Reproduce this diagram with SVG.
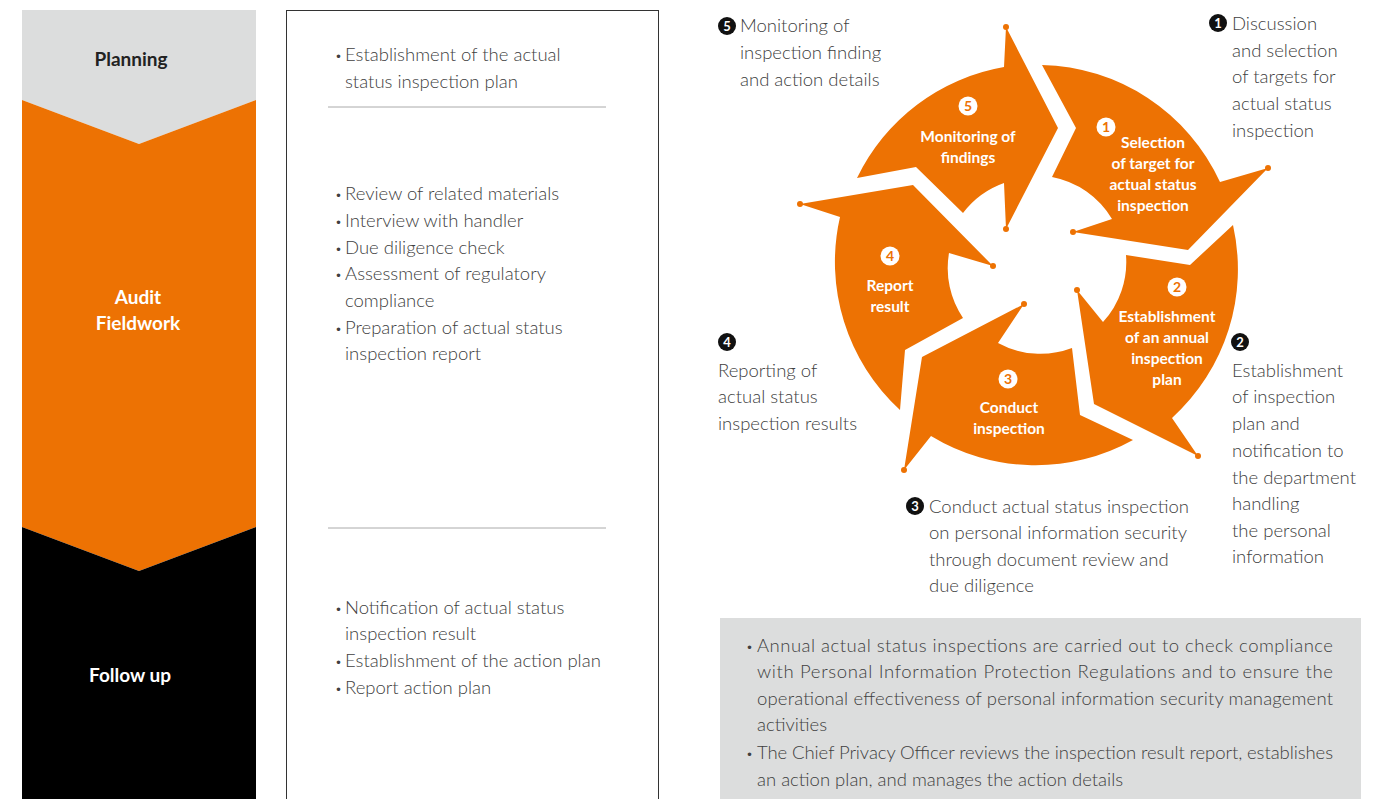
<svg xmlns="http://www.w3.org/2000/svg" width="1399" height="799" viewBox="0 0 1399 799">
<style>
.t{font-family:Lato,"Open Sans","Liberation Sans",sans-serif;font-size:18.5px;font-weight:300;fill:#404040}
.b{font-family:Lato,"Open Sans","Liberation Sans",sans-serif;font-weight:bold}
.seg{fill:#ED7203}
.sl{font-family:Lato,"Open Sans","Liberation Sans",sans-serif;font-weight:bold;font-size:15.5px;fill:#fff;text-anchor:middle}
.sn{font-family:Lato,"Open Sans","Liberation Sans",sans-serif;font-weight:bold;font-size:14px;fill:#ED7203;text-anchor:middle}
.on{font-family:Lato,"Open Sans","Liberation Sans",sans-serif;font-weight:bold;font-size:13px;fill:#fff;text-anchor:middle}
.bl{font-size:12px}
</style>
<rect width="1399" height="799" fill="#fff"/>

<g id="stage-planning">
<polygon points="22,10 256,10 256,100 139,144 22,100" fill="#DCDDDD"/>
<text class="b" x="131" y="66" font-size="19" fill="#222" text-anchor="middle">Planning</text>
</g>
<g id="stage-fieldwork">
<polygon points="22,100 139,144 256,100 256,527 139,571 22,527" fill="#ED7203"/>
<text class="b" x="138" y="304" font-size="19" fill="#fff" text-anchor="middle">Audit</text>
<text class="b" x="138" y="330" font-size="19" fill="#fff" text-anchor="middle">Fieldwork</text>
</g>
<g id="stage-followup">
<polygon points="22,527 139,571 256,527 256,799 22,799" fill="#000"/>
<text class="b" x="130" y="682" font-size="19" fill="#fff" text-anchor="middle">Follow up</text>
</g>

<g id="task-box">
<rect x="286.5" y="10.5" width="372" height="800" fill="none" stroke="#333" stroke-width="1"/>
<line x1="328" y1="107" x2="606" y2="107" stroke="#aaa" stroke-width="1"/>
<line x1="328" y1="528" x2="606" y2="528" stroke="#aaa" stroke-width="1"/>
<text class="t"><tspan x="335" y="60" class="bl">•</tspan><tspan x="345" y="61">Establishment of the actual</tspan><tspan x="345" y="88">status inspection plan</tspan></text>
<text class="t"><tspan x="335" y="199" class="bl">•</tspan><tspan x="345" y="200">Review of related materials</tspan>
<tspan x="335" y="226" class="bl">•</tspan><tspan x="345" y="227">Interview with handler</tspan>
<tspan x="335" y="253" class="bl">•</tspan><tspan x="345" y="254">Due diligence check</tspan>
<tspan x="335" y="279" class="bl">•</tspan><tspan x="345" y="280">Assessment of regulatory</tspan>
<tspan x="345" y="307">compliance</tspan>
<tspan x="335" y="333" class="bl">•</tspan><tspan x="345" y="334">Preparation of actual status</tspan>
<tspan x="345" y="360">inspection report</tspan></text>
<text class="t"><tspan x="335" y="613" class="bl">•</tspan><tspan x="345" y="614">Notification of actual status</tspan>
<tspan x="345" y="640">inspection result</tspan>
<tspan x="335" y="666" class="bl">•</tspan><tspan x="345" y="667">Establishment of the action plan</tspan>
<tspan x="335" y="693" class="bl">•</tspan><tspan x="345" y="694">Report action plan</tspan></text>
</g>

<g id="connectors"></g>

<g id="step1">
<path class="seg" d="M1042,65 A201,201 0 0 1 1220,182 L1268,168 L1188,250 L1073,232 L1112,219 A89,89 0 0 0 1052,177 L1076,128 Z"/>
<circle class="seg" cx="1268" cy="168" r="3"/><circle class="seg" cx="1073" cy="232" r="3"/>
<circle cx="1106" cy="127" r="9.5" fill="#fff"/><text class="sn" x="1106" y="132">1</text>
<text class="sl" x="1153" y="148">Selection</text>
<text class="sl" x="1153" y="169">of target for</text>
<text class="sl" x="1153" y="190">actual status</text>
<text class="sl" x="1153" y="211">inspection</text>
</g>
<g id="step2">
<path class="seg" d="M1233,225 A201,201 0 0 1 1172,418 L1198,456 L1094,404 L1077,290 L1103,322 A89,89 0 0 0 1126,255 L1190,265 Z"/>
<circle class="seg" cx="1198" cy="456" r="3"/><circle class="seg" cx="1077" cy="290" r="3"/>
<circle cx="1177" cy="287" r="9.5" fill="#fff"/><text class="sn" x="1177" y="292">2</text>
<text class="sl" x="1167" y="322">Establishment</text>
<text class="sl" x="1167" y="343">of an annual</text>
<text class="sl" x="1167" y="364">inspection</text>
<text class="sl" x="1167" y="385">plan</text>
</g>
<g id="step3">
<path class="seg" d="M1133,440 A201,201 0 0 1 931,436 L904,470 L922,357 L1024,304 L998,343 A89,89 0 0 0 1072,348 L1080,415 Z"/>
<circle class="seg" cx="904" cy="470" r="3"/><circle class="seg" cx="1024" cy="304" r="3"/>
<circle cx="1008" cy="379" r="9.5" fill="#fff"/><text class="sn" x="1008" y="384">3</text>
<text class="sl" x="1009" y="413">Conduct</text>
<text class="sl" x="1009" y="434">inspection</text>
</g>
<g id="step4">
<path class="seg" d="M900,410 A201,201 0 0 1 840,217 L800,204 L913,185 L993,266 L949,253 A89,89 0 0 0 963,318 L905,350 Z"/>
<circle class="seg" cx="800" cy="204" r="3"/><circle class="seg" cx="993" cy="266" r="3"/>
<circle cx="890" cy="256" r="9.5" fill="#fff"/><text class="sn" x="890" y="261">4</text>
<text class="sl" x="890" y="291">Report</text>
<text class="sl" x="890" y="312">result</text>
</g>
<g id="step5">
<path class="seg" d="M857,178 A201,201 0 0 1 1004,67 L1006,27 L1058,128 L1006,229 L1004,183 A89,89 0 0 0 963,213 L916,167 Z"/>
<circle class="seg" cx="1006" cy="27" r="3"/><circle class="seg" cx="1006" cy="229" r="3"/>
<circle cx="968" cy="106" r="9.5" fill="#fff"/><text class="sn" x="968" y="111">5</text>
<text class="sl" x="968" y="142">Monitoring of</text>
<text class="sl" x="968" y="163">findings</text>
</g>

<g id="note1">
<circle cx="1218" cy="23" r="9" fill="#111"/><text class="on" x="1218" y="28">1</text>
<text class="t"><tspan x="1232" y="30">Discussion</tspan><tspan x="1232" y="57">and selection</tspan><tspan x="1232" y="83">of targets for</tspan><tspan x="1232" y="110">actual status</tspan><tspan x="1232" y="137">inspection</tspan></text>
</g>
<g id="note2">
<circle cx="1240" cy="342" r="9" fill="#111"/><text class="on" x="1240" y="347">2</text>
<text class="t"><tspan x="1232" y="377">Establishment</tspan><tspan x="1232" y="403">of inspection</tspan><tspan x="1232" y="430">plan and</tspan><tspan x="1232" y="457">notification to</tspan><tspan x="1232" y="484">the department</tspan><tspan x="1232" y="510">handling</tspan><tspan x="1232" y="537">the personal</tspan><tspan x="1232" y="563">information</tspan></text>
</g>
<g id="note3">
<circle cx="915" cy="506" r="9" fill="#111"/><text class="on" x="915" y="511">3</text>
<text class="t"><tspan x="929" y="513">Conduct actual status inspection</tspan><tspan x="929" y="539">on personal information security</tspan><tspan x="929" y="566">through document review and</tspan><tspan x="929" y="592">due diligence</tspan></text>
</g>
<g id="note4">
<circle cx="727" cy="342" r="9" fill="#111"/><text class="on" x="727" y="347">4</text>
<text class="t"><tspan x="718" y="377">Reporting of</tspan><tspan x="718" y="403">actual status</tspan><tspan x="718" y="430">inspection results</tspan></text>
</g>
<g id="note5">
<circle cx="727" cy="26" r="9" fill="#111"/><text class="on" x="727" y="31">5</text>
<text class="t"><tspan x="740" y="32">Monitoring of</tspan><tspan x="740" y="59">inspection finding</tspan><tspan x="740" y="86">and action details</tspan></text>
</g>

<g id="summary">
<rect x="720" y="618" width="641" height="181" fill="#DCDDDD"/>
<text class="t" x="746" y="651"><tspan class="bl">•</tspan></text>
<text class="t" x="757" y="652" textLength="576" lengthAdjust="spacing">Annual actual status inspections are carried out to check compliance</text>
<text class="t" x="757" y="678" textLength="576" lengthAdjust="spacing">with Personal Information Protection Regulations and to ensure the</text>
<text class="t" x="757" y="705" textLength="576" lengthAdjust="spacing">operational effectiveness of personal information security management</text>
<text class="t" x="757" y="731">activities</text>
<text class="t" x="746" y="758"><tspan class="bl">•</tspan></text>
<text class="t" x="757" y="759" textLength="576" lengthAdjust="spacing">The Chief Privacy Officer reviews the inspection result report, establishes</text>
<text class="t" x="757" y="786">an action plan, and manages the action details</text>
</g>
</svg>
